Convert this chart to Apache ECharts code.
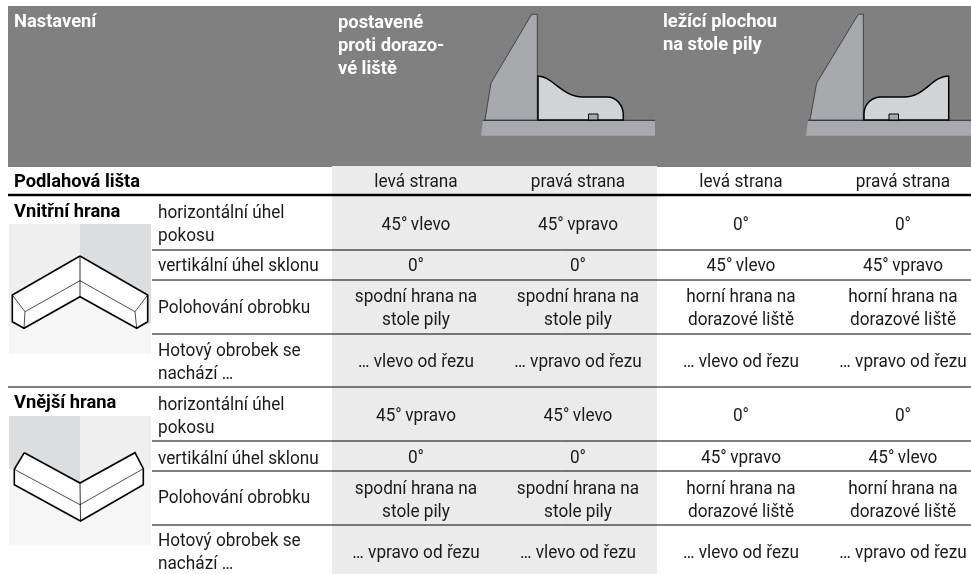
<!DOCTYPE html>
<html>
<head>
<meta charset="utf-8">
<style>
  html, body { margin: 0; padding: 0; background: #fff; }
  #chart { width: 971px; height: 574px; }
</style>
<script src="https://cdn.jsdelivr.net/npm/echarts@6/dist/echarts.min.js"></script>
</head>
<body>
<div id="chart"></div>
<script>
const headerTitle = "Nastavení";
const standingLabel = "postavené\nproti dorazo-\nvé liště";
const lyingLabel = "ležící plochou\nna stole pily";
const mouldingLabel = "Podlahová lišta";
const sideLabels = ["levá strana", "pravá strana", "levá strana", "pravá strana"];
const sectionLabels = ["Vnitřní hrana", "Vnější hrana"];
const rowLabels = [
  "horizontální úhel\npokosu",
  "vertikální úhel sklonu",
  "Polohování obrobku",
  "Hotový obrobek se\nnachází …",
];
const innerRows = [
  ["45°\u2009vlevo", "45°\u2009vpravo", "0°", "0°"],
  ["0°", "0°", "45°\u2009vlevo", "45°\u2009vpravo"],
  ["spodní hrana na\nstole pily", "spodní hrana na\nstole pily", "horní hrana na\ndorazové liště", "horní hrana na\ndorazové liště"],
  ["… vlevo od řezu", "… vpravo od řezu", "… vlevo od řezu", "… vpravo od řezu"],
];
const outerRows = [
  ["45°\u2009vpravo", "45°\u2009vlevo", "0°", "0°"],
  ["0°", "0°", "45°\u2009vpravo", "45°\u2009vlevo"],
  ["spodní hrana na\nstole pily", "spodní hrana na\nstole pily", "horní hrana na\ndorazové liště", "horní hrana na\ndorazové liště"],
  ["… vpravo od řezu", "… vlevo od řezu", "… vlevo od řezu", "… vpravo od řezu"],
];

// table layout in page pixels, the axes below run 1:1 with the canvas
const columnCenters = [416, 578, 741, 903];
const innerCenters = [225, 266, 309, 362];
const outerCenters = [416, 458, 501, 553];
const innerLabelCenters = [225, 266, 308, 363];
const outerLabelCenters = [417, 459, 498, 553];

const INK = "#1a1a1a";
const FONT = "Roboto, sans-serif";
const FONT_SIZE = 18.5;

const rectData = [
  [8, 6, 971, 167, "#808080"],
  [332, 166, 657, 574, "#ebebeb"],
];
const ruleData = [
  [8, 195, 971, 2.4],
  [152, 250, 971, 1],
  [152, 280, 971, 1],
  [152, 334, 971, 1],
  [8, 387, 971, 1.2],
  [152, 441, 971, 1],
  [152, 471, 971, 1],
  [152, 525, 971, 1],
];

const textData = [];
function addText(x, y, text, opts) {
  textData.push(Object.assign({ value: [x, y], text, bold: false, color: INK, align: "center" }, opts));
}

addText(14, 22, headerTitle, { bold: true, color: "#fff", align: "left" });
addText(338, 46, standingLabel, { bold: true, color: "#fff", align: "left" });
addText(663, 34, lyingLabel, { bold: true, color: "#fff", align: "left" });
addText(14, 182, mouldingLabel, { bold: true, color: "#000", align: "left" });
sideLabels.forEach((label, i) => addText(columnCenters[i], 182, label));

sectionLabels.forEach((label, i) => {
  addText(14, i === 0 ? 212 : 403, label, { bold: true, color: "#000", align: "left" });
});
rowLabels.forEach((label, i) => {
  addText(158, innerLabelCenters[i], label, { align: "left" });
  addText(158, outerLabelCenters[i], label, { align: "left" });
});
innerRows.forEach((row, r) => {
  row.forEach((cell, c) => addText(columnCenters[c], innerCenters[r], cell));
});
outerRows.forEach((row, r) => {
  row.forEach((cell, c) => addText(columnCenters[c], outerCenters[r], cell));
});

function renderRect(params, api) {
  const row = rectData[params.dataIndex];
  const a = api.coord([row[0], row[1]]);
  const b = api.coord([row[2], row[3]]);
  return {
    type: "rect",
    shape: { x: a[0], y: a[1], width: b[0] - a[0], height: b[1] - a[1] },
    style: { fill: row[4] },
  };
}

function renderRule(params, api) {
  const row = ruleData[params.dataIndex];
  const a = api.coord([row[0], row[1]]);
  const b = api.coord([row[2], row[1]]);
  return {
    type: "line",
    shape: { x1: a[0], y1: a[1], x2: b[0], y2: b[1] },
    style: { stroke: "#000", lineWidth: row[3] },
  };
}

function renderText(params, api) {
  const item = textData[params.dataIndex];
  const p = api.coord(item.value);
  return {
    type: "text",
    x: p[0],
    y: p[1],
    scaleX: item.bold ? 0.99 : 0.93,
    style: {
      text: item.text,
      x: 0,
      y: 0,
      fill: item.color,
      align: item.align,
      verticalAlign: "middle",
      lineHeight: 23,
      font: `${item.bold ? "bold " : ""}${FONT_SIZE}px ${FONT}`,
    },
  };
}

// saw fence pictograms and the corner sketches are decoration, drawn in page pixels
const FENCE = "#a7a9ac";
const PIECE = "#d1d3d4";
function sawPicture(dx, pieceRight) {
  const base = dx === 0
    ? [[481, 135.7], [483, 120.3], [655, 120.3], [655, 135.7]]
    : [[806, 135.7], [808, 120.3], [971, 120.3], [971, 135.7]];
  const fence = dx === 0
    ? [[485, 120], [491, 83], [531.7, 14.3], [537.3, 14.3], [537.3, 120]]
    : [[810, 120], [816.7, 83], [858.3, 14.3], [863.3, 14.3], [863.3, 120]];
  const piecePath = pieceRight
    ? "M538 120 L538 76 C552 76 562 97 583 97 L607 97 C616 97 623.3 105 623.3 115 L623.3 120 Z"
    : "M864 120 L864 114 C864 104 872 97 881 97 L904 97 C925 97 932 76 948.7 76 L948.7 120 Z";
  const notchX = pieceRight ? 588.5 : 889;
  return [
    { type: "polygon", shape: { points: base }, style: { fill: FENCE } },
    { type: "line", shape: { x1: base[1][0], y1: 120.3, x2: base[2][0], y2: 120.3 }, style: { stroke: "#111", lineWidth: 0.8 } },
    { type: "polygon", shape: { points: fence }, style: { fill: FENCE, stroke: "#222", lineWidth: 0.7 } },
    { type: "path", shape: { pathData: piecePath }, style: { fill: PIECE, stroke: "#000", lineWidth: 1.5 } },
    { type: "rect", shape: { x: notchX, y: 114, width: 9.5, height: 6 }, style: { fill: FENCE, stroke: "#000", lineWidth: 1 } },
  ];
}

function stroke(points, width) {
  return { type: "polyline", shape: { points }, style: { stroke: "#000", lineWidth: width, fill: null } };
}

function innerCorner() {
  const outline = [[80, 256], [147.7, 295], [147.7, 321.7], [136.7, 328.3], [80, 296.7], [24, 328.3], [12.3, 321.7], [12.3, 295]];
  return [
    { type: "rect", shape: { x: 9, y: 224, width: 142, height: 130 }, style: { fill: "#f6f6f6" } },
    { type: "polygon", shape: { points: [[9, 224], [80, 224], [80, 297], [24, 328], [9, 323]] }, style: { fill: "#efefef" } },
    { type: "polygon", shape: { points: [[80, 224], [151, 224], [151, 323], [137, 328], [80, 297]] }, style: { fill: "#dcddde" } },
    { type: "polygon", shape: { points: outline }, style: { fill: "#fff" } },
    stroke([...outline, outline[0]], 1.6),
    stroke([[80, 256], [80, 296.7]], 0.8),
    stroke([[25, 311.7], [80, 280.7], [135, 311.7]], 0.7),
    stroke([[12.3, 295], [25, 311.7], [24, 328.3]], 0.7),
    stroke([[147.7, 295], [135, 311.7], [136.7, 328.3]], 0.7),
  ];
}

function outerCorner() {
  const outline = [[24.3, 452.7], [80, 483], [135, 452.7], [143.3, 468.7], [143.3, 484.7], [80.5, 521], [14.3, 484.7], [14.3, 469.3]];
  return [
    { type: "rect", shape: { x: 9, y: 416, width: 142, height: 129 }, style: { fill: "#f6f6f6" } },
    { type: "polygon", shape: { points: [[80, 416], [151, 416], [151, 469], [143, 469], [80, 484]] }, style: { fill: "#efefef" } },
    { type: "polygon", shape: { points: [[9, 416], [80, 416], [80, 484], [14, 469], [9, 469]] }, style: { fill: "#dcddde" } },
    { type: "polygon", shape: { points: outline }, style: { fill: "#fff" } },
    stroke([...outline, outline[0]], 1.6),
    stroke([[80, 483], [80.5, 521]], 0.8),
    stroke([[14.3, 469.3], [80, 504.7], [143.3, 468.7]], 0.7),
  ];
}

function renderDecor(params, api) {
  return {
    type: "group",
    children: [...sawPicture(0, true), ...sawPicture(1, false), ...innerCorner(), ...outerCorner()],
  };
}

const chart = echarts.init(document.getElementById("chart"));
chart.setOption({
  animation: false,
  backgroundColor: "#fff",
  grid: { left: 0, right: 0, top: 0, bottom: 0 },
  xAxis: { type: "value", min: 0, max: 971, show: false },
  yAxis: { type: "value", min: 0, max: 574, inverse: true, show: false },
  tooltip: { show: false },
  series: [
    { type: "custom", z: 1, renderItem: renderRect, data: rectData.map((r) => r.slice(0, 2)), silent: true, clip: false },
    { type: "custom", z: 2, renderItem: renderRule, data: ruleData.map((r) => r.slice(0, 2)), silent: true },
    { type: "custom", z: 3, renderItem: renderDecor, data: [[0, 0]], silent: true },
    { type: "custom", z: 4, renderItem: renderText, data: textData.map((t) => t.value), silent: true },
  ],
});
</script>
</body>
</html>
